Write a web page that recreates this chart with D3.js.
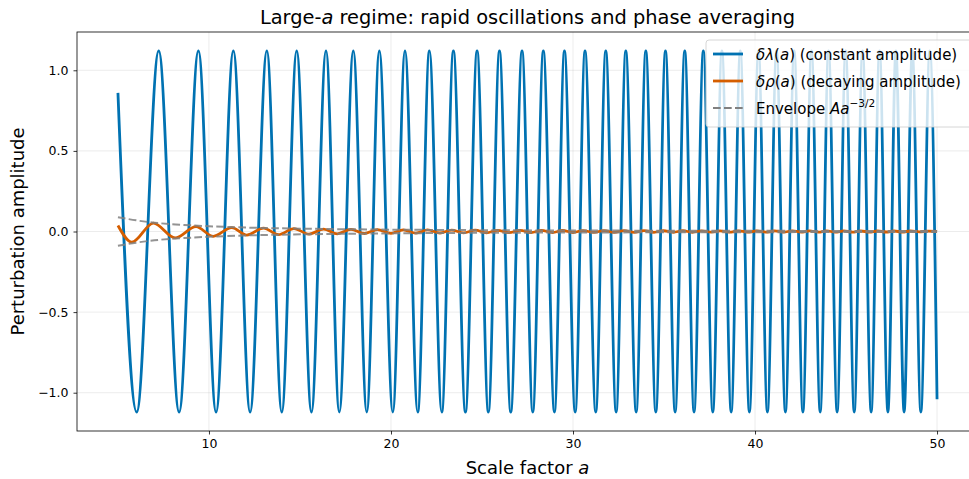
<!DOCTYPE html>
<html>
<head>
<meta charset="utf-8">
<script src="https://cdn.jsdelivr.net/npm/d3@7"></script>
<style>
  body { margin: 0; background: #fff; }
  svg { display: block; font-family: "DejaVu Sans", sans-serif; }
</style>
</head>
<body>
<div id="chart"></div>
<script>
// Données (extrema des courbes)
const xTicks = [10, 20, 30, 40, 50];
const yTicks = [-1.0, -0.5, 0.0, 0.5, 1.0];

// δλ(a) : amplitude constante, extrema successifs
const lambdaA = [5.00, 6.03, 7.24, 8.36, 9.42, 10.39, 11.34, 12.26, 13.18, 14.00, 14.82, 15.63, 16.43, 17.16, 17.93,
  18.67, 19.36, 20.10, 20.77, 21.47, 22.11, 22.79, 23.43, 24.09, 24.73, 25.35, 25.96, 26.58, 27.20, 27.79, 28.37,
  28.98, 29.53, 30.12, 30.66, 31.25, 31.80, 32.37, 32.90, 33.47, 34.00, 34.55, 35.08, 35.61, 36.14, 36.65, 37.16,
  37.68, 38.18, 38.69, 39.19, 39.69, 40.19, 40.68, 41.18, 41.67, 42.15, 42.63, 43.10, 43.58, 44.04, 44.51, 44.98,
  45.45, 45.91, 46.38, 46.84, 47.30, 47.74, 48.19, 48.64, 49.11, 49.60, 50.00];
const lambdaV = [0.86, -1.12, 1.12, -1.12, 1.12, -1.12, 1.12, -1.12, 1.12, -1.12, 1.12, -1.12, 1.12, -1.12, 1.12,
  -1.12, 1.12, -1.12, 1.12, -1.12, 1.12, -1.12, 1.12, -1.12, 1.12, -1.12, 1.12, -1.12, 1.12, -1.12, 1.12,
  -1.12, 1.12, -1.12, 1.12, -1.12, 1.12, -1.12, 1.12, -1.12, 1.12, -1.12, 1.12, -1.12, 1.12, -1.12, 1.12,
  -1.12, 1.12, -1.12, 1.12, -1.12, 1.12, -1.12, 1.12, -1.12, 1.12, -1.12, 1.12, -1.12, 1.12, -1.12, 1.12,
  -1.12, 1.12, -1.12, 1.12, -1.12, 1.12, -1.12, 1.12, -1.12, 1.12, -1.04];

// δρ(a) : amplitude décroissante
const rhoA = [5.00, 5.76, 6.95, 8.14, 9.29, 10.24, 11.25, 12.08, 13.00, 13.82, 14.67, 15.50, 16.30, 17.05, 17.80,
  18.55, 19.25, 20.00, 20.67, 21.37, 22.01, 22.69, 23.33, 23.99, 24.63, 25.25, 25.86, 26.48, 27.10, 27.70, 28.27,
  28.88, 29.43, 30.00, 30.55, 31.14, 31.70, 32.26, 32.80, 33.36, 33.90, 34.45, 34.98, 35.51, 36.04, 36.55, 37.06,
  37.58, 38.08, 38.59, 39.09, 39.59, 40.09, 40.58, 41.08, 41.57, 42.05, 42.53, 43.00, 43.48, 43.94, 44.41, 44.88,
  45.35, 45.81, 46.28, 46.74, 47.20, 47.64, 48.09, 48.54, 49.03, 49.50, 50.00];
const rhoV = [0.037, -0.066, 0.052, -0.040, 0.030, -0.030, 0.024, -0.022, 0.0213, -0.0195, 0.0178, -0.0164, 0.0152,
  -0.0142, 0.0133, -0.0125, 0.0118, -0.0112, 0.0106, -0.0101, 0.0097, -0.0093, 0.0089, -0.0085, 0.0082, -0.0079,
  0.0076, -0.0073, 0.0071, -0.0069, 0.0067, -0.0064, 0.0063, -0.0061, 0.0059, -0.0058, 0.0056, -0.0055, 0.0053,
  -0.0052, 0.0051, -0.0049, 0.0048, -0.0047, 0.0046, -0.0045, 0.0044, -0.0043, 0.0043, -0.0042, 0.0041, -0.0040,
  0.0039, -0.0039, 0.0038, -0.0037, 0.0037, -0.0036, 0.0035, -0.0035, 0.0034, -0.0034, 0.0033, -0.0033, 0.0032,
  -0.0032, 0.0031, -0.0031, 0.0030, -0.0030, 0.0030, -0.0029, 0.0029, 0.0000];

// enveloppe A a^(-3/2)
const envA = [5, 6, 7, 8, 10, 12, 15, 20, 25, 30, 40, 50];
const envV = [0.089, 0.068, 0.054, 0.044, 0.032, 0.024, 0.017, 0.011, 0.008, 0.006, 0.004, 0.003];

// Paramètres
const W = 969, H = 479;
const margin = {top: 32, right: -9, bottom: 48, left: 77};
const width = W - margin.left - margin.right;
const height = H - margin.top - margin.bottom;
const blue = '#0072B2';
const orange = '#D55E00';
const grey = '#808080';
const lw = 2.8;
const dash = '7.7,3.3';

const svg = d3.select('#chart').append('svg')
  .attr('width', W)
  .attr('height', H);

const x = d3.scaleLinear().domain([2.75, 52.25]).range([0, width]);
const y = d3.scaleLinear().domain([-1.2375, 1.2375]).range([height, 0]);

const g = svg.append('g').attr('transform', `translate(${margin.left},${margin.top})`);

g.append('clipPath').attr('id', 'clip')
  .append('rect').attr('width', width).attr('height', height);

// grille
g.append('g').selectAll('line.gx')
  .data(xTicks).join('line')
  .attr('x1', d => x(d)).attr('x2', d => x(d))
  .attr('y1', 0).attr('y2', height)
  .attr('stroke', '#b0b0b0').attr('stroke-opacity', 0.3).attr('stroke-width', 0.8);
g.append('g').selectAll('line.gy')
  .data(yTicks).join('line')
  .attr('x1', 0).attr('x2', width)
  .attr('y1', d => y(d)).attr('y2', d => y(d))
  .attr('stroke', '#b0b0b0').attr('stroke-opacity', 0.3).attr('stroke-width', 0.8);

// courbes
const plot = g.append('g').attr('clip-path', 'url(#clip)');
const line = d3.line().x(d => x(d[0])).y(d => y(d[1])).curve(d3.curveMonotoneX);

plot.append('path')
  .datum(d3.zip(lambdaA, lambdaV))
  .attr('d', line)
  .attr('fill', 'none').attr('stroke', blue).attr('stroke-width', lw);

plot.append('path')
  .datum(d3.zip(rhoA, rhoV))
  .attr('d', line)
  .attr('fill', 'none').attr('stroke', orange).attr('stroke-width', lw);

const envLine = d3.line().x(d => x(d[0])).y(d => y(d[1])).curve(d3.curveBasis);
[1, -1].forEach(s => {
  plot.append('path')
    .datum(d3.zip(envA, envV.map(v => s * v)))
    .attr('d', envLine)
    .attr('fill', 'none').attr('stroke', grey).attr('stroke-opacity', 0.85)
    .attr('stroke-width', 2).attr('stroke-dasharray', dash);
});

// axes
const xAxis = g.append('g').attr('transform', `translate(0,${height})`)
  .call(d3.axisBottom(x).tickValues(xTicks).tickFormat(d3.format('d')).tickSize(3.5).tickPadding(5));
const yAxis = g.append('g')
  .call(d3.axisLeft(y).tickValues(yTicks).tickFormat(d3.format('.1f')).tickSize(3.5).tickPadding(5));
[xAxis, yAxis].forEach(a => {
  a.select('.domain').remove();
  a.selectAll('text').style('font-size', '12.5px').style('font-family', 'DejaVu Sans').attr('fill', '#000');
  a.selectAll('line').attr('stroke', '#000').attr('stroke-width', 0.8);
});

// cadre
g.append('rect').attr('width', width).attr('height', height)
  .attr('fill', 'none').attr('stroke', '#000').attr('stroke-width', 0.8);

// titres
const title = svg.append('text')
  .attr('x', margin.left + width / 2).attr('y', 24)
  .attr('text-anchor', 'middle').style('font-size', '19.4px');
title.append('tspan').text('Large-');
title.append('tspan').attr('font-style', 'italic').text('a');
title.append('tspan').text(' regime: rapid oscillations and phase averaging');

const xl = svg.append('text')
  .attr('x', margin.left + width / 2).attr('y', 474)
  .attr('text-anchor', 'middle').style('font-size', '18px');
xl.append('tspan').text('Scale factor ');
xl.append('tspan').attr('font-style', 'italic').text('a');

svg.append('text')
  .attr('transform', `translate(24,${margin.top + height / 2}) rotate(-90)`)
  .attr('text-anchor', 'middle').style('font-size', '18px')
  .text('Perturbation amplitude');

// légende
const leg = svg.append('g').attr('transform', 'translate(706,40)');
leg.append('rect').attr('width', 280).attr('height', 87).attr('rx', 3)
  .attr('fill', '#fff').attr('fill-opacity', 0.8).attr('stroke', '#ccc').attr('stroke-width', 0.8);

const entries = [
  {color: blue, dash: null, parts: [['δλ', 'i'], ['(', 'n'], ['a', 'i'], [') (constant amplitude)', 'n']]},
  {color: orange, dash: null, parts: [['δρ', 'i'], ['(', 'n'], ['a', 'i'], [') (decaying amplitude)', 'n']]},
  {color: grey, dash: dash, parts: [['Envelope ', 'n'], ['Aa', 'i'], ['−3/2', 's']]}
];
entries.forEach((e, i) => {
  const row = leg.append('g').attr('transform', `translate(0,${14 + i * 27})`);
  row.append('line').attr('x1', 7).attr('x2', 37).attr('y1', 0).attr('y2', 0)
    .attr('stroke', e.color).attr('stroke-width', e.dash ? 2 : lw)
    .attr('stroke-dasharray', e.dash);
  const t = row.append('text').attr('x', 50).attr('y', 5.5).style('font-size', '15px');
  e.parts.forEach(p => {
    const ts = t.append('tspan').text(p[0]);
    if (p[1] === 'i') ts.attr('font-style', 'italic');
    if (p[1] === 's') ts.attr('dy', -7).style('font-size', '10.5px');
  });
});
</script>
</body>
</html>
